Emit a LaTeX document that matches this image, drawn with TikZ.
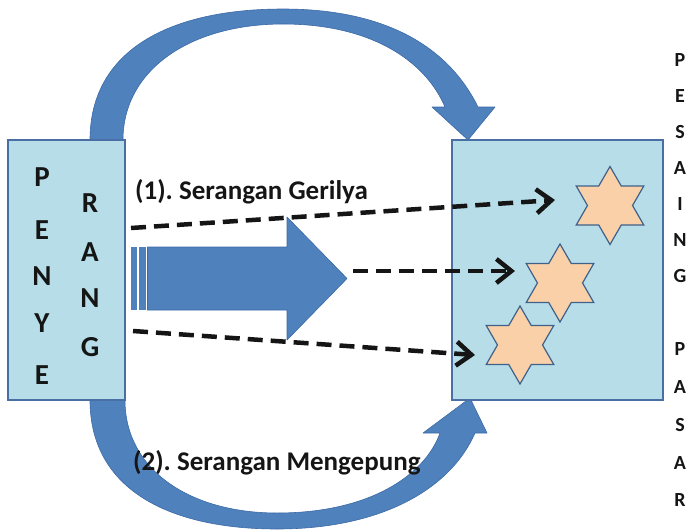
\documentclass[tikz,border=0pt]{standalone}
\usepackage{fontspec}
\setmainfont{Carlito}
\usetikzlibrary{shapes.geometric,arrows.meta}
\definecolor{arrowblue}{HTML}{4F81BD}
\definecolor{arrowedge}{HTML}{3C6AA6}
\definecolor{boxfill}{HTML}{B7DEE8}
\definecolor{boxedge}{HTML}{4A6FA5}
\definecolor{starfill}{HTML}{FAD0A8}
\definecolor{staredge}{HTML}{3F6189}
\definecolor{ink}{HTML}{151515}
\frenchspacing
\begin{document}
\begin{tikzpicture}[x=1pt,y=-1pt,
  panel/.style={draw=boxedge,line width=1.5pt,fill=boxfill,inner sep=0pt},
  bigarrow/.style={fill=arrowblue,draw=arrowedge,line width=0.6pt,line join=round},
  hexstar/.style={star,star points=6,star point ratio=1.732,minimum size=78pt,
    inner sep=0pt,fill=starfill,draw=staredge,line width=1.2pt},
  dasharrow/.style={draw=ink,line width=4.5pt,dash pattern=on 15pt off 8pt,
    -{Straight Barb[length=15pt,width=24pt]}},
  letter/.style={text=ink,font=\fontsize{29}{29}\selectfont\bfseries,inner sep=0pt},
  sideletter/.style={text=ink,font=\fontsize{20}{20}\selectfont\bfseries,inner sep=0pt},
  caption/.style={text=ink,font=\fontsize{27}{27}\selectfont\bfseries,inner sep=0pt,anchor=base west}
]
\useasboundingbox (0,0) rectangle (691,531);

% curved arrow over the top
\draw[bigarrow] (90,140) .. controls (90,50) and (170,9) .. (283,9)
  .. controls (390,9) and (450,50) .. (478,107) -- (495,107) -- (468,140)
  -- (432,107) -- (445,107) .. controls (425,60) and (370,24) .. (283,24)
  .. controls (190,24) and (123,70) .. (123,140) -- cycle;

% curved arrow underneath
\draw[bigarrow] (90,400) .. controls (90,490) and (170,529) .. (277,529)
  .. controls (380,529) and (450,490) .. (475,433) -- (487,433) -- (470,398)
  -- (423,433) -- (440,433) .. controls (425,475) and (370,513) .. (277,513)
  .. controls (190,513) and (125,470) .. (125,400) -- cycle;

% the two panels
\node[panel,minimum width=117pt,minimum height=260pt] (penyerang) at (66.5,270) {};
\node[panel,minimum width=211pt,minimum height=260pt] (pasar) at (557.5,270) {};

% letters of the attacker panel
\node[letter] (l1) at (42,177) {P};
\node[letter] (l2) at (42,230) {E};
\node[letter] (l3) at (42,276) {N};
\node[letter] (l4) at (42,323) {Y};
\node[letter] (l5) at (42,375) {E};
\node[letter] (l6) at (90,203) {R};
\node[letter] (l7) at (90,252) {A};
\node[letter] (l8) at (90,298) {N};
\node[letter] (l9) at (90,347) {G};

% striped block arrow
\fill[arrowblue] (131,247) rectangle (137,310);
\fill[arrowblue] (138.5,247) rectangle (146,310);
\draw[bigarrow] (147.5,247) -- (287,247) -- (287,217) -- (347,278.5)
  -- (287,340) -- (287,310) -- (147.5,310) -- cycle;
\coordinate (thrust) at (353,271);

% competitors
\node[hexstar] (s1) at (610,205.5) {};
\node[hexstar] (s2) at (560,283) {};
\node[hexstar] (s3) at (520,345) {};

% dashed attack lines
\coordinate (a1) at (131,228);
\coordinate (b1) at (555,200);
\coordinate (b2) at (515,271);
\coordinate (a3) at (133,331);
\coordinate (b3) at (475,355);
\draw[dasharrow] (a1) -- (b1);
\draw[dasharrow] (thrust) -- (b2);
\draw[dasharrow] (a3) -- (b3);

% captions
\node[caption] (gerilya) at (135,199) {(1). Serangan Gerilya};
\node[caption] (kepung) at (133,470) {(2). Serangan Mengepung};

% side label
\node[sideletter] at (680,60) {P};
\node[sideletter] at (680,96) {E};
\node[sideletter] at (680,132) {S};
\node[sideletter] at (680,168) {A};
\node[sideletter] at (680,204) {I};
\node[sideletter] at (680,240) {N};
\node[sideletter] at (680,276) {G};
\node[sideletter] at (680,349) {P};
\node[sideletter] at (680,387) {A};
\node[sideletter] at (680,425) {S};
\node[sideletter] at (680,463) {A};
\node[sideletter] at (680,500) {R};
\end{tikzpicture}
\end{document}
